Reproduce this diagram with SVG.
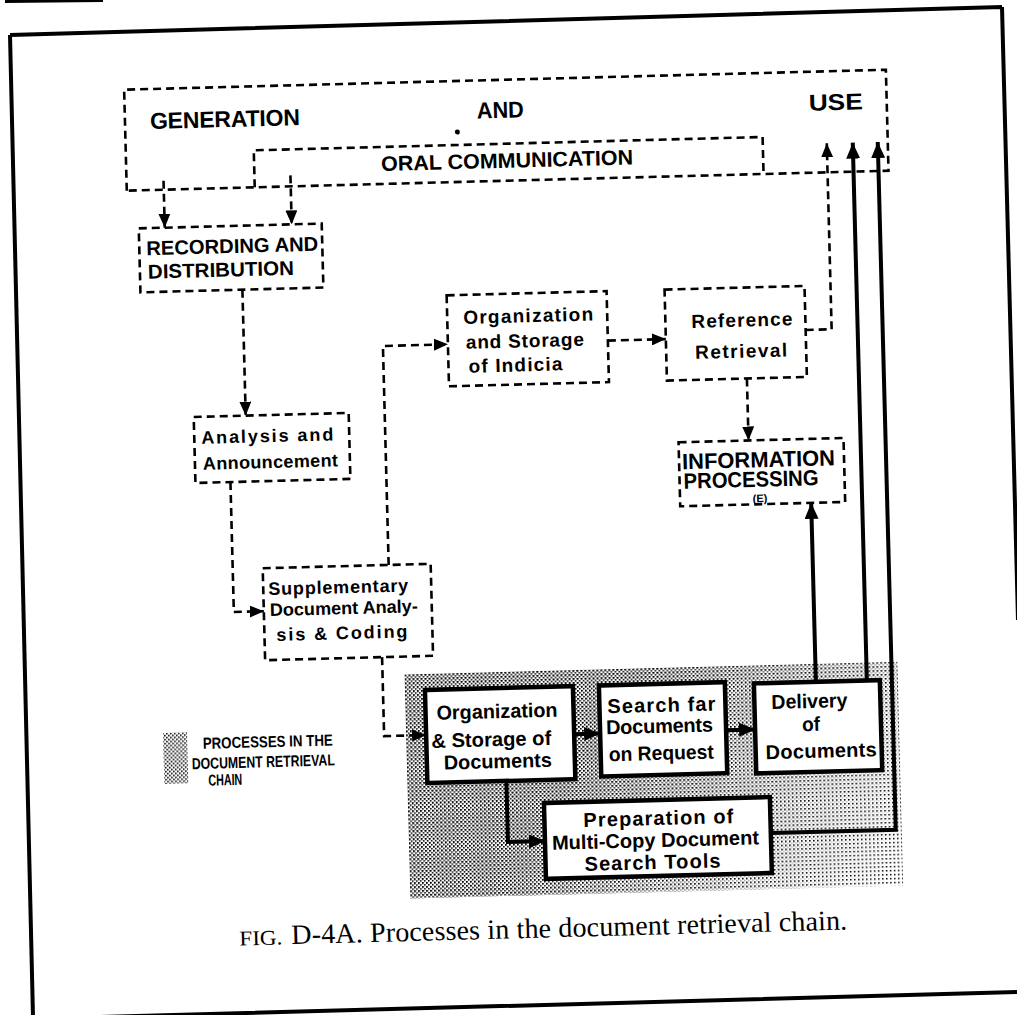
<svg xmlns="http://www.w3.org/2000/svg" width="1017" height="1015" viewBox="0 0 1017 1015">
<defs>
<style>
.d{fill:none;stroke:#000;stroke-width:2.6;stroke-dasharray:8 5}
.sb{fill:#fff;stroke:#000;stroke-width:4.5}
.sl{fill:none;stroke:#000;stroke-width:4}
.fr{fill:none;stroke:#000;stroke-width:4}
.t{font-family:"Liberation Sans",Arial,sans-serif;font-weight:bold;fill:#000}
.cap{font-family:"Liberation Serif","Times New Roman",serif;fill:#000}
</style>
<marker id="ahd" viewBox="0 0 14 12" refX="14" refY="6" markerWidth="14" markerHeight="12" orient="auto" markerUnits="userSpaceOnUse"><path d="M0,0 L14,6 L0,12 z" fill="#000"/></marker>
<marker id="ahs" viewBox="0 0 16 14" refX="16" refY="7" markerWidth="16" markerHeight="14" orient="auto" markerUnits="userSpaceOnUse"><path d="M0,0 L16,7 L0,14 z" fill="#000"/></marker>
<pattern id="dense" width="4" height="4" patternUnits="userSpaceOnUse"><rect x="0" y="0" width="1.6" height="1.6" fill="#000"/><rect x="2" y="2" width="1.6" height="1.6" fill="#000"/></pattern>
<pattern id="sparse" width="4" height="4" patternUnits="userSpaceOnUse"><rect x="0" y="0" width="1.5" height="1.5" fill="#000"/></pattern>
<linearGradient id="fadeGrad" gradientUnits="userSpaceOnUse" x1="620" y1="700" x2="880" y2="890"><stop offset="0" stop-color="#fff"/><stop offset="1" stop-color="#000"/></linearGradient>
<mask id="fade"><rect x="390" y="660" width="520" height="250" fill="url(#fadeGrad)"/></mask>
</defs>
<rect width="1017" height="1015" fill="#fff"/>
<g id="frame">
<path class="fr" d="M10,35 L1002,7 M10,35 L33,1017 M1002,7 L1018,620 M100,1017 L1017,992"/>
<path d="M5,1.5 L103,0.5" stroke="#000" stroke-width="3"/>
</g>
<g transform="rotate(-1.5 500 500)">
<g id="stipple">
<rect x="400" y="672" width="493" height="224" fill="url(#sparse)"/>
<rect x="400" y="672" width="493" height="224" fill="url(#dense)" mask="url(#fade)"/>
</g>
<g id="connectors">
<path class="d" d="M172,172 V219" marker-end="url(#ahd)"/>
<path class="d" d="M299,170 V219" marker-end="url(#ahd)"/>
<path class="d" d="M248,283 V409" marker-end="url(#ahd)"/>
<path class="d" d="M231,475 V605 H261" marker-end="url(#ahd)"/>
<path class="d" d="M387,562 V343 H452" marker-end="url(#ahd)"/>
<path class="d" d="M612,343.5 H670" marker-end="url(#ahd)"/>
<path class="d" d="M810,338 H836 V152" marker-end="url(#ahd)"/>
<path class="d" d="M750,385 V447" marker-end="url(#ahd)"/>
<path class="d" d="M378,654 V733 H420" marker-end="url(#ahd)"/>
<path class="sl" d="M568,736 H594" marker-end="url(#ahs)"/>
<path class="sl" d="M720,736 H749" marker-end="url(#ahs)"/>
<path class="sl" d="M499,781 V842 H536" marker-end="url(#ahs)"/>
<path class="sl" d="M811,690 V511" marker-end="url(#ahs)"/>
<path class="sl" d="M862,690 V152" marker-end="url(#ahs)"/>
<path class="sl" d="M762,840 H887 V152" marker-end="url(#ahs)"/>
</g>
<g id="generation-and-use">
<path class="d" d="M135,181 V80 H897 V181 Z"/>
<text class="t" x="160" y="120" font-size="23" textLength="150" lengthAdjust="spacing">GENERATION</text>
<text class="t" x="487" y="118" font-size="23" textLength="47" lengthAdjust="spacingAndGlyphs">AND</text>
<text class="t" x="819" y="119" font-size="23" textLength="54" lengthAdjust="spacingAndGlyphs">USE</text>
<circle cx="467" cy="131" r="2.5" fill="#000"/>
</g>
<g id="oral-communication">
<path class="d" d="M263,181 V144 H772 V181"/>
<text class="t" x="390" y="168" font-size="21" textLength="252" lengthAdjust="spacingAndGlyphs">ORAL COMMUNICATION</text>
</g>
<g id="recording">
<rect class="d" x="146" y="219" width="183" height="64"/>
<text class="t" x="153" y="246" font-size="20" textLength="172" lengthAdjust="spacingAndGlyphs">RECORDING AND</text>
<text class="t" x="154" y="269.5" font-size="20" textLength="146" lengthAdjust="spacingAndGlyphs">DISTRIBUTION</text>
</g>
<g id="analysis">
<rect class="d" x="196" y="409" width="155" height="66"/>
<text class="t" x="203" y="436" font-size="18" textLength="132" lengthAdjust="spacing">Analysis and</text>
<text class="t" x="204" y="462" font-size="18" textLength="135" lengthAdjust="spacing">Announcement</text>
</g>
<g id="supplementary">
<rect class="d" x="261" y="562" width="168" height="92"/>
<text class="t" x="266" y="589" font-size="18" textLength="140" lengthAdjust="spacing">Supplementary</text>
<text class="t" x="267" y="610" font-size="18" textLength="148" lengthAdjust="spacingAndGlyphs">Document Analy-</text>
<text class="t" x="273" y="635" font-size="18" textLength="131" lengthAdjust="spacing">sis &amp; Coding</text>
</g>
<g id="indicia">
<rect class="d" x="452" y="294" width="160" height="91"/>
<text class="t" x="468" y="323" font-size="19" textLength="130" lengthAdjust="spacing">Organization</text>
<text class="t" x="470" y="348" font-size="19" textLength="118" lengthAdjust="spacing">and Storage</text>
<text class="t" x="472" y="372" font-size="19" textLength="94" lengthAdjust="spacing">of Indicia</text>
</g>
<g id="reference-retrieval">
<rect class="d" x="670" y="294" width="140" height="91"/>
<text class="t" x="696" y="333" font-size="19" textLength="101" lengthAdjust="spacing">Reference</text>
<text class="t" x="699" y="364" font-size="19" textLength="92" lengthAdjust="spacing">Retrieval</text>
</g>
<g id="information-processing">
<rect class="d" x="680" y="447" width="165" height="64"/>
<text class="t" x="683" y="474" font-size="22" textLength="153" lengthAdjust="spacingAndGlyphs">INFORMATION</text>
<text class="t" x="684" y="493.5" font-size="22" textLength="135" lengthAdjust="spacingAndGlyphs">PROCESSING</text>
<text class="t" x="760" y="509" font-size="11" text-anchor="middle">(E)</text>
</g>
<g id="organization-storage-documents">
<rect class="sb" x="420" y="688" width="148" height="93"/>
<text class="t" x="431" y="718" font-size="20" textLength="121" lengthAdjust="spacingAndGlyphs">Organization</text>
<text class="t" x="425" y="746" font-size="20" textLength="120" lengthAdjust="spacingAndGlyphs">&amp; Storage of</text>
<text class="t" x="437" y="768" font-size="20" textLength="108" lengthAdjust="spacingAndGlyphs">Documents</text>
</g>
<g id="search-documents">
<rect class="sb" x="594" y="688" width="126" height="91"/>
<text class="t" x="602" y="716" font-size="20" textLength="108" lengthAdjust="spacing">Search far</text>
<text class="t" x="600" y="737" font-size="20" textLength="107" lengthAdjust="spacing">Documents</text>
<text class="t" x="602" y="764" font-size="20" textLength="105" lengthAdjust="spacingAndGlyphs">on Request</text>
</g>
<g id="delivery">
<rect class="sb" x="749" y="690" width="126" height="90"/>
<text class="t" x="766" y="716" font-size="20" textLength="76" lengthAdjust="spacingAndGlyphs">Delivery</text>
<text class="t" x="796" y="739" font-size="20" textLength="18" lengthAdjust="spacingAndGlyphs">of</text>
<text class="t" x="759" y="766" font-size="20" textLength="111" lengthAdjust="spacing">Documents</text>
</g>
<g id="preparation">
<rect class="sb" x="536" y="804" width="226" height="76"/>
<text class="t" x="575" y="829" font-size="20" textLength="150" lengthAdjust="spacing">Preparation of</text>
<text class="t" x="543" y="851" font-size="20" textLength="207" lengthAdjust="spacingAndGlyphs">Multi-Copy Document</text>
<text class="t" x="575" y="873" font-size="20" textLength="136" lengthAdjust="spacing">Search Tools</text>
</g>
<g id="legend">
<rect x="157" y="724" width="24" height="51" fill="url(#dense)"/>
<text class="t" x="196.5" y="741" font-size="16" textLength="130" lengthAdjust="spacingAndGlyphs">PROCESSES IN THE</text>
<text class="t" x="185" y="761" font-size="16" textLength="143" lengthAdjust="spacingAndGlyphs">DOCUMENT RETRIEVAL</text>
<text class="t" x="201" y="778" font-size="16" textLength="34" lengthAdjust="spacingAndGlyphs">CHAIN</text>
</g>
<g id="caption">
<text class="cap" y="938.5"><tspan x="228" font-size="21" textLength="43" lengthAdjust="spacingAndGlyphs">FIG.</tspan><tspan x="280" font-size="28" textLength="556" lengthAdjust="spacing">D-4A. Processes in the document retrieval chain.</tspan></text>
</g>
</g>
</svg>
